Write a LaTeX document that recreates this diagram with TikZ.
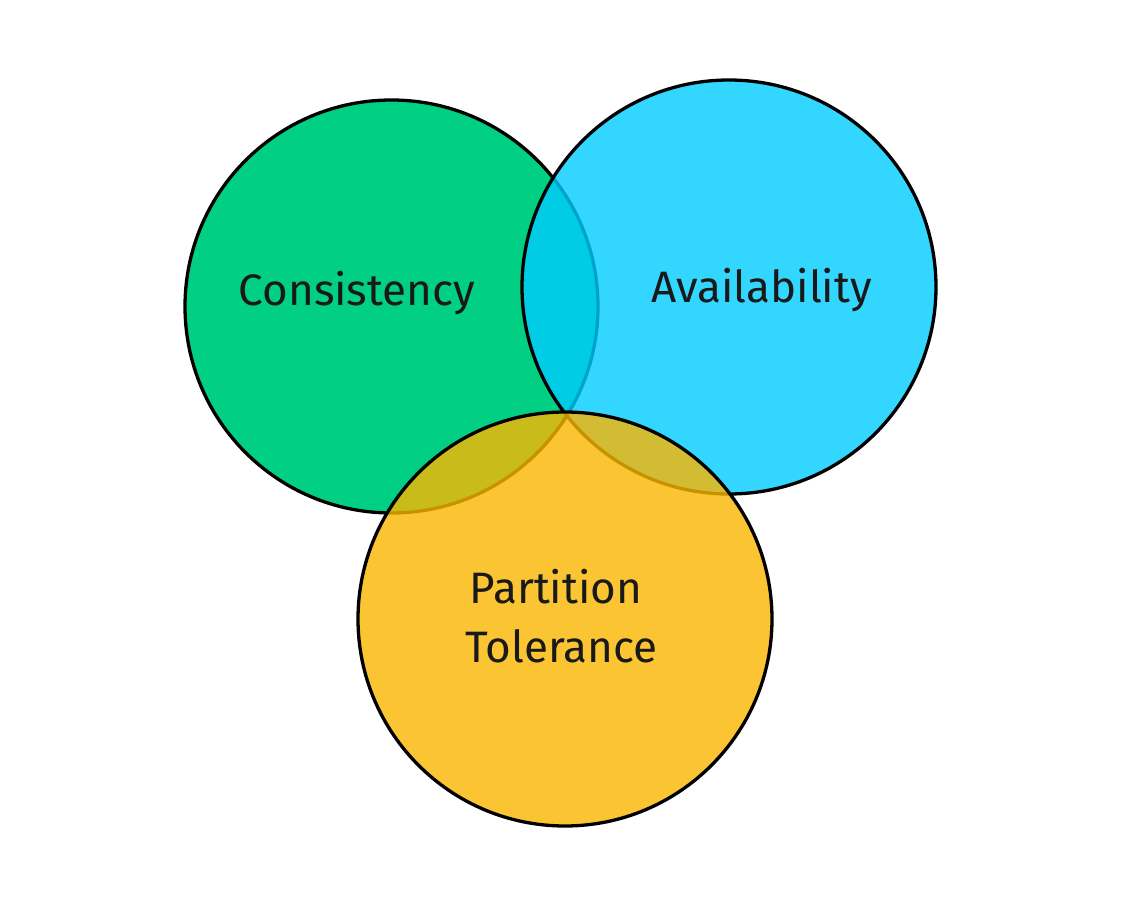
\documentclass[tikz,border=0pt]{standalone}
\usepackage{fontspec}
\setmainfont{Fira Sans}
\definecolor{cgreen}{RGB}{0,207,132}
\definecolor{cblue}{RGB}{0,204,255}
\definecolor{cyellow}{RGB}{250,182,0}
\begin{document}
\begin{tikzpicture}[x=1pt,y=-1pt,
  setc/.style={draw=black,line width=3.3pt,fill opacity=0.8,draw opacity=1},
  lbl/.style={anchor=base,inner sep=0pt,font=\fontsize{44}{50}\selectfont,text=black!90}]
\useasboundingbox (0,0) rectangle (1138,904);
\fill[white] (0,0) rectangle (1138,904);
\draw[setc,fill=cgreen,fill opacity=1] (391.5,306.5) circle[radius=206.5];
\draw[setc,fill=cblue] (729,287) circle[radius=207];
\draw[setc,fill=cyellow] (565,619) circle[radius=207];
\node[lbl] (c) at (357,305) {Consistency};
\node[lbl] (a) at (761.5,302) {Availability};
\node[lbl] (p) at (556,603) {Partition};
\node[lbl] (t) at (561.5,662) {Tolerance};
\end{tikzpicture}
\end{document}
